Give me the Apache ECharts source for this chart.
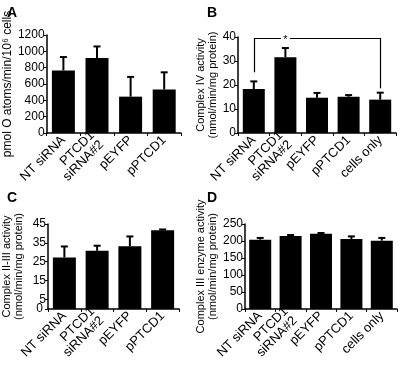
<!DOCTYPE html>
<html><head><meta charset="utf-8">
<script src="https://cdn.jsdelivr.net/npm/echarts@6/dist/echarts.min.js"></script>
<style>html,body{margin:0;padding:0;background:#fff}#c{width:404px;height:370px}</style>
</head><body><div id="c"></div>
<script>
// ---- data ----
const cats4 = ['NT siRNA', 'PTCD1\nsiRNA#2', 'pEYFP', 'pPTCD1'];
const cats5 = ['NT siRNA', 'PTCD1\nsiRNA#2', 'pEYFP', 'pPTCD1', 'cells only'];
const valsA = [765, 918, 445, 533];
const errA  = [165, 142, 242, 210];
const valsB = [18.3, 31.6, 14.7, 15.1, 13.9];
const errB  = [3.2, 3.8, 2.0, 0.7, 2.9];
const valsC = [27.3, 30.8, 33.2, 41.7];
const errC  = [5.8, 2.7, 5.2, 0.4];
const valsD = [204, 215, 221, 206, 201];
const errD  = [5, 2.5, 2.5, 7.5, 8];
const ticksA = [0, 200, 400, 600, 800, 1000, 1200];
const ticksB = [0, 10, 20, 30, 40];
const ticksC = [0, 5, 15, 25, 35, 45];
const ticksD = [0, 50, 100, 150, 200, 250];
const bracketB = {from: 'NT siRNA', to: 'cells only', top: 39.6, leftBottom: 25.3, rightBottom: 18.6, star: 'PTCD1\nsiRNA#2'};

const FONT = '"Liberation Sans", Arial, Helvetica, sans-serif';
const chart = echarts.init(document.getElementById('c'), null, {renderer: 'canvas'});

const grids = [
  {left: 45, top: 35, width: 136, height: 98},
  {left: 238, top: 37, width: 158, height: 96},
  {left: 43, top: 224, width: 136, height: 98},
  {left: 245, top: 224, width: 152, height: 98}
];
const axisLineStyle = {color: '#000', width: 1.5};

function xAx(i, cats) {
  return {
    type: 'category', gridIndex: i,
    data: cats.map(c => c.indexOf('\n') >= 0 ? {value: c, textStyle: {padding: [24, 0, 0, 0]}} : c),
    axisLine: {lineStyle: axisLineStyle},
    axisTick: {show: true, length: 3, lineStyle: {color: '#000', width: 1}},
    axisLabel: {rotate: 45, interval: 0, fontSize: 13, color: '#000', fontFamily: FONT, margin: 5, lineHeight: 13}
  };
}
function yAx(i, ticks, name, gap, nameSize) {
  return {
    type: 'value', gridIndex: i, position: 'left', min: ticks[0], max: ticks[ticks.length - 1],
    name: name, nameLocation: 'middle', nameGap: gap, nameRotate: 90,
    nameTextStyle: {fontSize: nameSize, color: '#000', fontFamily: FONT, lineHeight: nameSize + 1},
    splitLine: {show: false},
    axisLine: {show: true, lineStyle: axisLineStyle},
    axisTick: {show: true, length: 3, customValues: ticks, lineStyle: {color: '#000', width: 1}},
    axisLabel: {fontSize: 12, color: '#000', fontFamily: FONT, margin: 2, customValues: ticks,
      hideOverlap: false, formatter: v => String(v)}
  };
}
// panel C: the 0 and 5 labels sit very close; the 0 label is drawn by a twin axis
const yC = yAx(2, ticksC, 'Complex II-III activity\n(nmol/min/mg protein)', 23, 11);
yC.axisLabel.customValues = ticksC.slice(1);
const yC0 = {
  type: 'value', gridIndex: 2, position: 'left', offset: 0,
  min: ticksC[0], max: ticksC[ticksC.length - 1],
  splitLine: {show: false}, axisLine: {show: false}, axisTick: {show: false},
  axisLabel: {fontSize: 12, color: '#000', fontFamily: FONT, margin: 5, customValues: [ticksC[0]],
    showMinLabel: true, formatter: v => String(v)}
};

function errRender(params, api) {
  const x = api.value(0);
  const lo = api.coord([x, api.value(1)]);
  const hi = api.coord([x, api.value(2)]);
  const w = 3.5;
  return {type: 'group', children: [
    {type: 'line', shape: {x1: lo[0], y1: lo[1], x2: hi[0], y2: hi[1]}, style: {stroke: '#000', lineWidth: 2}},
    {type: 'line', shape: {x1: hi[0] - w, y1: hi[1], x2: hi[0] + w, y2: hi[1]}, style: {stroke: '#000', lineWidth: 2}}
  ]};
}
function barS(i, vals, w, extra) {
  return Object.assign({
    type: 'bar', xAxisIndex: i, yAxisIndex: i, data: vals, barWidth: w,
    itemStyle: {color: '#000'}, z: 2
  }, extra || {});
}
function errS(i, vals, errs) {
  return {
    type: 'custom', xAxisIndex: i, yAxisIndex: i, renderItem: errRender, z: 1,
    data: vals.map((v, k) => [k, v, v + errs[k]])
  };
}

const option = {
  animation: false,
  backgroundColor: '#fff',
  textStyle: {fontFamily: FONT},
  title: [
    {text: 'A', left: 2, top: 1, textStyle: {fontSize: 14, fontWeight: 'bold', color: '#000', fontFamily: FONT}},
    {text: 'B', left: 202, top: 1, textStyle: {fontSize: 14, fontWeight: 'bold', color: '#000', fontFamily: FONT}},
    {text: 'C', left: 2, top: 186, textStyle: {fontSize: 14, fontWeight: 'bold', color: '#000', fontFamily: FONT}},
    {text: 'D', left: 202, top: 186, textStyle: {fontSize: 14, fontWeight: 'bold', color: '#000', fontFamily: FONT}}
  ],
  grid: grids,
  xAxis: [xAx(0, cats4), xAx(1, cats5), xAx(2, cats4), xAx(3, cats5)],
  yAxis: [
    yAx(0, ticksA, 'pmol O atoms/min/10\u2076 cells', 32, 12),
    yAx(1, ticksB, 'Complex IV activity\n(nmol/min/mg protein)', 15, 11),
    yC,
    yAx(3, ticksD, 'Complex III enzyme activity\n(nmol/min/mg protein)', 24, 11),
    yC0
  ],
  series: [
    barS(0, valsA, 23), errS(0, valsA, errA),
    barS(1, valsB, 22, {
      markLine: {
        silent: true, symbol: ['none', 'none'], animation: false,
        label: {show: false},
        lineStyle: {color: '#000', width: 1.2, type: 'solid'},
        data: [
          [{coord: [bracketB.from, bracketB.leftBottom]}, {coord: [bracketB.from, bracketB.top]}],
          [{coord: [bracketB.from, bracketB.top]}, {coord: [bracketB.to, bracketB.top]}],
          [{coord: [bracketB.to, bracketB.top]}, {coord: [bracketB.to, bracketB.rightBottom]}]
        ]
      },
      markPoint: {
        silent: true, symbol: 'rect', symbolSize: [9, 4], itemStyle: {color: '#fff'},
        label: {show: true, formatter: '*', color: '#000', fontSize: 11, fontFamily: FONT, position: 'inside', offset: [0, 2]},
        data: [{coord: [bracketB.star, bracketB.top]}]
      }
    }),
    errS(1, valsB, errB),
    barS(2, valsC, 23), errS(2, valsC, errC),
    barS(3, valsD, 22), errS(3, valsD, errD)
  ]
};
chart.setOption(option);
</script>
</body></html>
